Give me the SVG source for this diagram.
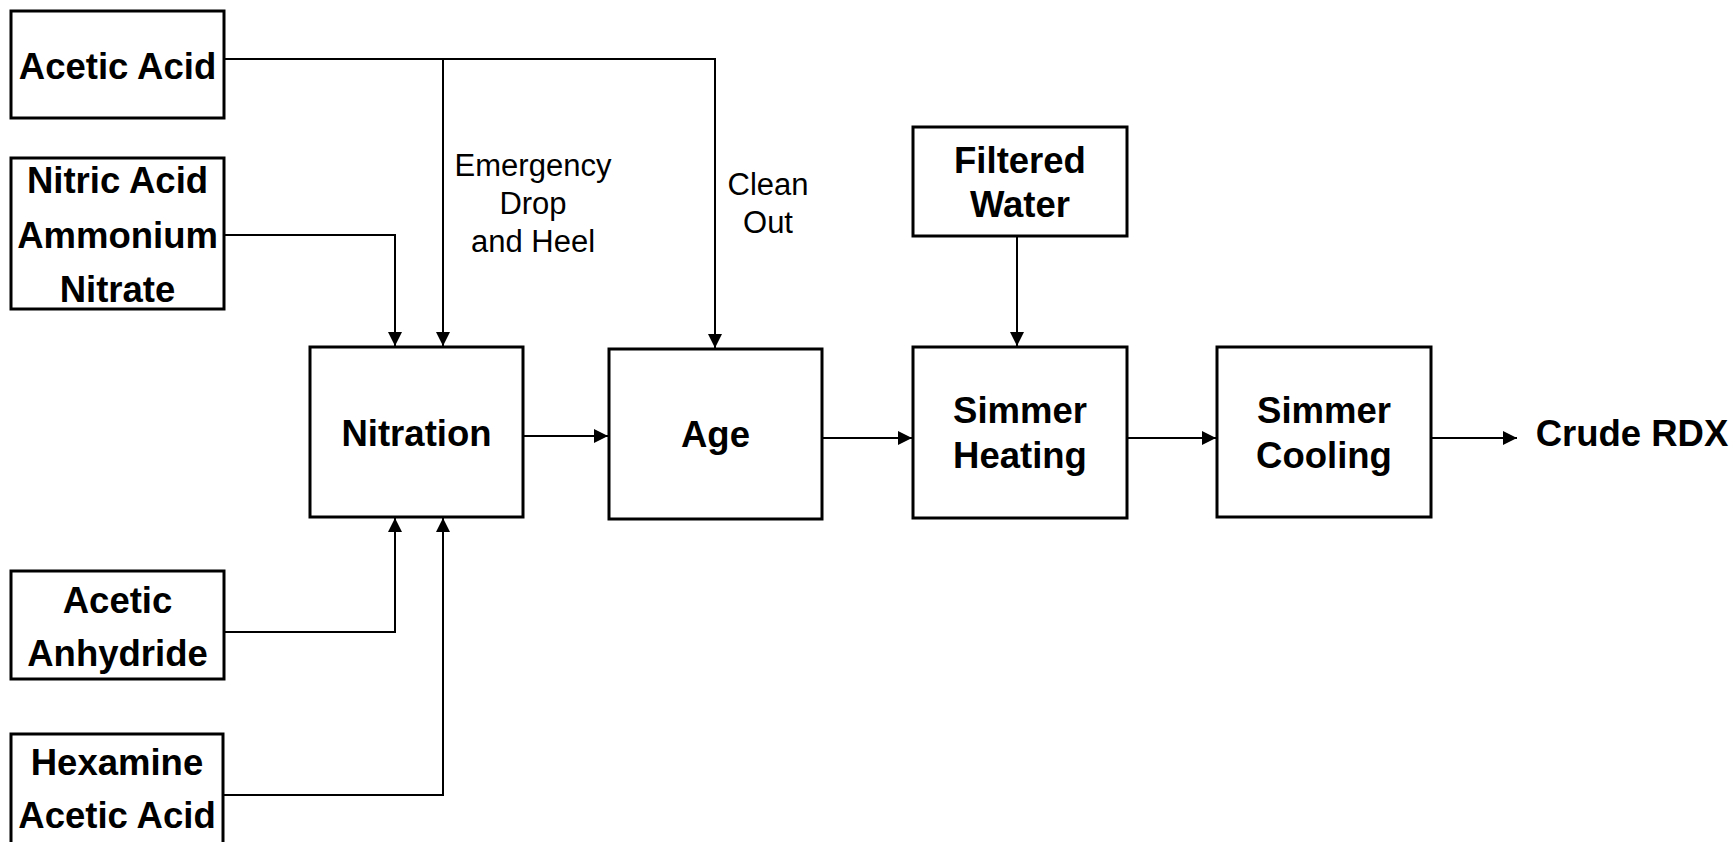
<svg xmlns="http://www.w3.org/2000/svg" width="1736" height="842" viewBox="0 0 1736 842">
<style>
.box{fill:#fff;stroke:#000;stroke-width:3}
.t{font-family:"Liberation Sans",Arial,sans-serif;font-weight:bold;font-size:36.5px;text-anchor:middle;fill:#000}
.l{font-family:"Liberation Sans",Arial,sans-serif;font-size:31px;text-anchor:middle;fill:#000}
.c{fill:none;stroke:#000;stroke-width:2}
</style>
<defs>
<marker id="ah" viewBox="0 0 14 14" refX="14" refY="7" markerWidth="14" markerHeight="14" markerUnits="userSpaceOnUse" orient="auto">
<path d="M0,0 L14,7 L0,14 Z" fill="#000"/>
</marker>
</defs>
<rect width="1736" height="842" fill="#fff"/>
<g id="connectors">
<path class="c" d="M224,59 H715 V348" marker-end="url(#ah)"/>
<path class="c" d="M443,59 V346" marker-end="url(#ah)"/>
<path class="c" d="M224,235 H395 V346" marker-end="url(#ah)"/>
<path class="c" d="M224,632 H395 V518" marker-end="url(#ah)"/>
<path class="c" d="M223,795 H443 V518" marker-end="url(#ah)"/>
<path class="c" d="M523,436 H608" marker-end="url(#ah)"/>
<path class="c" d="M822,438 H912" marker-end="url(#ah)"/>
<path class="c" d="M1017,236 V346" marker-end="url(#ah)"/>
<path class="c" d="M1127,438 H1216" marker-end="url(#ah)"/>
<path class="c" d="M1431,438 H1517" marker-end="url(#ah)"/>
</g>
<g id="acetic-acid">
<rect class="box" x="11" y="11" width="213" height="107"/>
<text class="t" x="117.5" y="79">Acetic Acid</text>
</g>
<g id="nitric-acid">
<rect class="box" x="11" y="158" width="213" height="151"/>
<text class="t" x="117.5" y="193">Nitric Acid</text>
<text class="t" x="117.5" y="248">Ammonium</text>
<text class="t" x="117.5" y="302">Nitrate</text>
</g>
<g id="acetic-anhydride">
<rect class="box" x="11" y="571" width="213" height="108"/>
<text class="t" x="117.5" y="613">Acetic</text>
<text class="t" x="117.5" y="666">Anhydride</text>
</g>
<g id="hexamine">
<rect class="box" x="11" y="734" width="212" height="120"/>
<text class="t" x="117" y="775">Hexamine</text>
<text class="t" x="117" y="828">Acetic Acid</text>
</g>
<g id="label-emergency">
<text class="l" x="533" y="176">Emergency</text>
<text class="l" x="533" y="214">Drop</text>
<text class="l" x="533" y="252">and Heel</text>
</g>
<g id="label-clean">
<text class="l" x="768" y="195">Clean</text>
<text class="l" x="768" y="233">Out</text>
</g>
<g id="nitration">
<rect class="box" x="310" y="347" width="213" height="170"/>
<text class="t" x="416.5" y="446">Nitration</text>
</g>
<g id="age">
<rect class="box" x="609" y="349" width="213" height="170"/>
<text class="t" x="715.5" y="447">Age</text>
</g>
<g id="filtered-water">
<rect class="box" x="913" y="127" width="214" height="109"/>
<text class="t" x="1020" y="173">Filtered</text>
<text class="t" x="1020" y="217">Water</text>
</g>
<g id="simmer-heating">
<rect class="box" x="913" y="347" width="214" height="171"/>
<text class="t" x="1020" y="423">Simmer</text>
<text class="t" x="1020" y="468">Heating</text>
</g>
<g id="simmer-cooling">
<rect class="box" x="1217" y="347" width="214" height="170"/>
<text class="t" x="1324" y="423">Simmer</text>
<text class="t" x="1324" y="468">Cooling</text>
</g>
<g id="crude-rdx">
<text class="t" x="1632" y="446">Crude RDX</text>
</g>
</svg>
